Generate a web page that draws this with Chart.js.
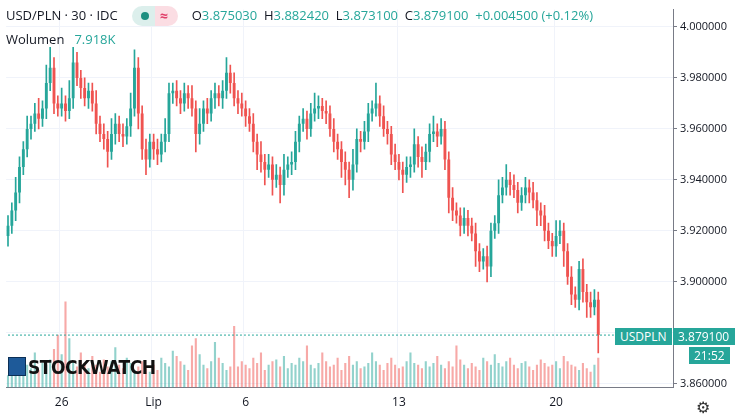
<!DOCTYPE html>
<html>
<head>
<meta charset="utf-8">
<script src="https://cdn.jsdelivr.net/npm/chart.js@4"></script>
<style>
  body{margin:0;background:#fff;font-family:"Open Sans",sans-serif;}
  #wrap{position:relative;width:735px;height:418px;}
  .hdr{position:absolute;left:6px;top:6px;font-size:13px;color:#131722;white-space:nowrap;}
  .hdr .v{color:#26a69a;}
  .pill{display:inline-block;vertical-align:middle;width:46px;height:20px;border-radius:10px;margin:0 14px 0 14px;background:linear-gradient(90deg,#dcefec 50%,#fbdde3 50%);position:relative;top:-1px}
  .pill:before{content:"";position:absolute;left:9px;top:6px;width:8px;height:8px;border-radius:4px;background:#1d8f80}
  .pill:after{content:"≈";position:absolute;left:28px;top:0px;color:#e0406a;font-size:14px;font-weight:bold}
  .vol{position:absolute;left:6px;top:30px;font-size:13px;color:#131722}
  .vol span{color:#26a69a;margin-left:10px}
  .wm{position:absolute;left:8px;top:356px;font:bold 19px "Liberation Sans Narrow","DejaVu Sans Condensed",sans-serif;color:#111;letter-spacing:-0.5px}
  .wm i{display:inline-block;width:16px;height:17px;background:#1e5a99;margin-right:2px;vertical-align:-2px;border:1px solid #0b2f55}
  .tag{position:absolute;color:#fff;background:#26a69a;font-size:12px;padding:0 5px;height:17px;line-height:17px}
  .gear{position:absolute;left:696px;top:396px;font-size:16px;color:#333}
</style>
</head>
<body>
<div id="wrap">
  <canvas id="chart" width="735" height="418"></canvas>
  <div class="hdr">USD/PLN · 30 · IDC<span class="pill"></span>O<span class="v">3.875030</span>&nbsp; H<span class="v">3.882420</span>&nbsp; L<span class="v">3.873100</span>&nbsp; C<span class="v">3.879100</span>&nbsp; <span class="v">+0.004500 (+0.12%)</span></div>
  <div class="vol">Wolumen<span>7.918K</span></div>
  <div class="wm"><i></i>STOCKWATCH</div>
  <div class="tag" style="left:615px;top:328px">USDPLN</div>
  <div class="tag" style="left:673px;top:328px;width:52px">3.879100</div>
  <div class="tag" style="left:689px;top:347px">21:52</div>
  <div class="gear">⚙</div>
</div>
<script>
var closes = [3.922,3.928,3.935,3.945,3.952,3.960,3.962,3.966,3.964,3.968,
  3.978,3.984,3.970,3.968,3.970,3.967,3.972,3.986,3.980,3.976,
  3.972,3.975,3.970,3.962,3.958,3.956,3.951,3.958,3.962,3.958,
  3.957,3.961,3.968,3.984,3.966,3.952,3.948,3.955,3.952,3.950,
  3.955,3.958,3.974,3.975,3.972,3.970,3.974,3.972,3.968,3.958,
  3.962,3.968,3.966,3.972,3.974,3.972,3.975,3.982,3.978,3.972,
  3.970,3.968,3.965,3.962,3.955,3.950,3.947,3.944,3.946,3.940,
  3.942,3.938,3.944,3.946,3.947,3.955,3.962,3.964,3.960,3.966,
  3.968,3.969,3.967,3.966,3.960,3.955,3.952,3.947,3.944,3.940,
  3.946,3.956,3.955,3.959,3.966,3.968,3.970,3.965,3.960,3.958,
  3.950,3.947,3.944,3.942,3.945,3.946,3.954,3.949,3.947,3.951,
  3.958,3.959,3.957,3.960,3.948,3.933,3.928,3.926,3.922,3.925,
  3.922,3.919,3.912,3.908,3.910,3.906,3.920,3.923,3.934,3.937,
  3.940,3.938,3.936,3.931,3.934,3.937,3.935,3.932,3.928,3.926,
  3.920,3.916,3.914,3.918,3.920,3.912,3.902,3.895,3.893,3.905,
  3.896,3.892,3.890,3.893,3.8791];
var firstOpen = 3.918;
// wick extensions in thousandths
var wickUp = [4,3,6,4,3,5,3,4,6,3,7,8,4,3,6,3,7,6,4,3,
  4,3,3,5,3,4,3,6,4,3,4,3,6,7,4,3,4,3,3,4,
  3,6,4,3,4,3,4,3,5,3,6,3,4,3,4,3,4,6,3,4,
  3,4,3,3,4,3,5,3,4,3,4,3,6,3,4,4,3,4,3,4,
  6,4,3,4,3,4,3,3,4,3,6,4,3,4,4,3,8,3,4,3,
  3,4,3,3,4,3,6,3,4,3,4,6,3,4,3,3,4,3,3,4,
  3,3,4,3,3,4,3,3,6,4,6,3,4,3,3,4,3,4,3,3,
  4,3,3,6,4,3,3,4,3,3,4,3,4,4,3];
var wickDown = [4,3,4,4,3,3,4,3,4,3,4,3,4,3,3,4,3,4,3,4,
  3,4,3,4,3,4,6,3,4,3,4,3,4,3,6,4,6,3,4,4,
  3,4,3,4,3,4,3,4,3,7,4,3,4,3,4,3,4,3,4,3,
  4,3,4,3,4,6,4,6,3,6,3,7,4,3,4,3,4,3,4,3,
  3,4,3,4,3,4,4,6,6,7,4,3,4,3,4,3,3,4,3,4,
  4,3,4,7,3,4,3,4,6,3,4,3,4,3,4,6,4,3,4,3,
  4,3,6,4,3,6,4,3,4,3,3,4,3,4,3,3,4,3,6,4,
  4,3,4,4,3,6,3,4,3,4,4,6,4,3,7];
var volume = [14,22,30,18,34,26,22,40,20,28,26,32,44,60,38,98,56,30,24,40,
  28,22,36,26,18,32,24,30,46,26,22,34,28,20,24,30,22,18,26,20,
  34,28,24,42,36,30,26,20,48,56,38,26,22,30,52,34,28,20,24,70,
  24,30,26,22,34,28,40,20,26,30,32,24,36,22,28,26,34,30,48,26,
  22,28,40,30,24,26,34,20,28,36,26,30,22,24,28,40,30,26,20,28,
  34,26,22,24,30,40,28,26,22,30,24,28,36,26,22,30,24,48,32,26,
  22,28,24,20,34,30,26,38,28,24,30,34,26,22,28,30,24,20,26,32,
  28,24,26,30,22,36,30,26,24,20,28,22,18,26,34];
var dayLabels = {14:'26',38:'Lip',62:'6',102:'13',143:'20'};
var slots = 174;

var labels = [], bodies = [], wicks = [], bodyColors = [], volColors = [], lastLine = [];
for (var i = 0; i < slots; i++) {
  labels.push(dayLabels[i] || '');
  lastLine.push(closes[closes.length - 1]);
  if (i < closes.length) {
    var o = i === 0 ? firstOpen : closes[i - 1];
    var c = closes[i];
    var up = c >= o;
    bodies.push([Math.min(o, c), Math.max(o, c)]);
    wicks.push([Math.min(o, c) - wickDown[i] / 1000, Math.max(o, c) + wickUp[i] / 1000]);
    bodyColors.push(up ? '#26a69a' : '#ef5350');
    volColors.push(up ? 'rgba(38,166,154,0.5)' : 'rgba(239,83,80,0.5)');
  } else {
    bodies.push(null); wicks.push(null); volume.push(null);
  }
}

new Chart(document.getElementById('chart'), {
  type: 'bar',
  data: {
    labels: labels,
    datasets: [
      {data: volume, yAxisID: 'v', backgroundColor: volColors, grouped: false, barPercentage: 0.55, categoryPercentage: 1, order: 5},
      {data: wicks, yAxisID: 'y', backgroundColor: bodyColors, grouped: false, barThickness: 1, order: 2},
      {data: bodies, yAxisID: 'y', backgroundColor: bodyColors, grouped: false, barPercentage: 0.75, categoryPercentage: 1, minBarLength: 1, order: 1},
      {type: 'line', data: lastLine, yAxisID: 'y', borderColor: '#26a69a', borderWidth: 1, borderDash: [2, 2], pointRadius: 0, order: 0}
    ]
  },
  options: {
    animation: false,
    responsive: false,
    layout: {padding: 0},
    plugins: {legend: {display: false}, tooltip: {enabled: false}},
    scales: {
      x: {
        grid: {color: function(ctx){ return ctx.tick && ctx.tick.label ? '#f0f3fa' : 'rgba(0,0,0,0)'; }, drawTicks: false},
        border: {color: '#787b86'},
        ticks: {autoSkip: false, maxRotation: 0, color: '#131722', font: {size: 12, family: 'Open Sans'}, padding: 8}
      },
      y: {
        position: 'right', min: 3.8585, max: 4.0068,
        afterBuildTicks: function(ax){ ax.ticks = [3.86,3.88,3.90,3.92,3.94,3.96,3.98,4.00].map(function(v){return {value:v};}); },
        afterFit: function(ax){ ax.width = 62; },
        grid: {color: '#f0f3fa', drawTicks: true, tickLength: 4, tickColor: '#787b86'},
        border: {color: '#787b86'},
        ticks: {color: '#131722', font: {size: 11, family: 'Open Sans'}, padding: 3, callback: function(v){ return v.toFixed(6); }}
      },
      v: {display: false, min: 0, max: 430}
    }
  }
});
</script>
</body>
</html>
